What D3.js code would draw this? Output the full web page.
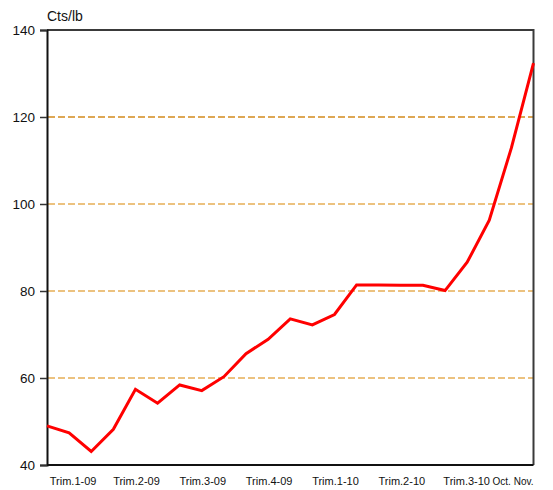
<!doctype html>
<html lang="fr">
<head>
	<meta charset="UTF-8">
	<title>Cts/lb</title>
	<script src="https://cdn.jsdelivr.net/npm/d3@7"></script>
	<style>
		body { margin: 0; background: #fff; }
		svg text { font-family: "Liberation Sans", Arial, sans-serif; fill: #111; }
		.grid line { stroke-dasharray: 7,3; stroke-width: 1.5; }
	</style>
</head>
<body>
	<script>
		// prix mensuels, janv. 2009 -> nov. 2010
		var values = [49.0, 47.4, 43.1, 48.2, 57.4, 54.2, 58.4, 57.1, 60.3, 65.6, 68.9, 73.6,
			72.2, 74.6, 81.4, 81.4, 81.3, 81.3, 80.1, 86.6, 96.3, 112.9, 132.4];
		var yTicks = [40, 60, 80, 100, 120, 140];
		var gridValues = [60, 80, 100, 120];
		var xLabels = ['Trim.1-09', 'Trim.2-09', 'Trim.3-09', 'Trim.4-09', 'Trim.1-10', 'Trim.2-10', 'Trim.3-10', 'Oct.', 'Nov.'];
		var xLabelIndex = [1, 4, 7, 10, 13, 16, 19, 21, 22];

		var w = 553,
			h = 490,
			plotLeft = 47,
			plotRight = 533.5,
			plotTop = 30,
			plotBottom = 465;

		var svg = d3.select('body').append('svg')
			.attr('width', w)
			.attr('height', h);

		var xScale = d3.scalePoint()
			.domain(d3.range(values.length))
			.range([plotLeft, plotRight]);

		var yScale = d3.scaleLinear()
			.domain([40, 140])
			.range([plotBottom, plotTop]);

		// grid lines
		svg.append('g')
			.attr('class', 'grid')
			.selectAll('line')
			.data(gridValues)
			.enter()
			.append('line')
			.attr('x1', plotLeft + 1)
			.attr('x2', plotRight)
			.attr('y1', function(d) { return yScale(d); })
			.attr('y2', function(d) { return yScale(d); })
			.attr('stroke', function(d) { return d === 120 ? '#d48a1c' : '#e6ae55'; });

		// frame: top and right
		svg.append('path')
			.attr('d', 'M' + plotLeft + ',' + plotTop + 'H' + plotRight + 'V' + plotBottom)
			.attr('fill', 'none')
			.attr('stroke', '#3a3a3a')
			.attr('stroke-width', 2);

		// y axis
		var yAxis = d3.axisLeft(yScale)
			.tickValues(yTicks)
			.tickSize(7)
			.tickPadding(5);

		var yG = svg.append('g')
			.attr('transform', 'translate(' + plotLeft + ',0)')
			.call(yAxis);
		yG.select('.domain').attr('stroke', '#111').attr('stroke-width', 2);
		yG.selectAll('.tick line').attr('stroke', '#333').attr('stroke-width', 1.5);
		yG.selectAll('.tick text').attr('font-size', 13.5).attr('dy', '0.36em');

		// x axis line
		svg.append('line')
			.attr('x1', plotLeft)
			.attr('x2', plotRight)
			.attr('y1', plotBottom)
			.attr('y2', plotBottom)
			.attr('stroke', '#111')
			.attr('stroke-width', 2);

		// x labels
		svg.append('g')
			.selectAll('text')
			.data(xLabels)
			.enter()
			.append('text')
			.attr('x', function(d, i) {
				var idx = xLabelIndex[i];
				if (i === 7) return xScale(idx) - 0.5;
				if (i === 8) return xScale(idx);
				if (i === 6) return xScale(idx) - 0.5;
				if (i === 0) return xScale(idx) + 4;
				return xScale(idx) + 1;
			})
			.attr('y', 485)
			.attr('font-size', function(d, i) { return i >= 7 ? 10 : 11; })
			.attr('text-anchor', function(d, i) { return i >= 7 ? 'end' : 'middle'; })
			.text(function(d) { return d; });

		// unit label
		svg.append('text')
			.attr('x', 47)
			.attr('y', 21)
			.attr('font-size', 14)
			.text('Cts/lb');

		// line
		var line = d3.line()
			.x(function(d, i) { return xScale(i); })
			.y(function(d) { return yScale(d); });

		svg.append('path')
			.datum(values)
			.attr('d', line)
			.attr('fill', 'none')
			.attr('stroke', '#ff0000')
			.attr('stroke-width', 3)
			.attr('stroke-linejoin', 'miter');
	</script>
</body>
</html>
